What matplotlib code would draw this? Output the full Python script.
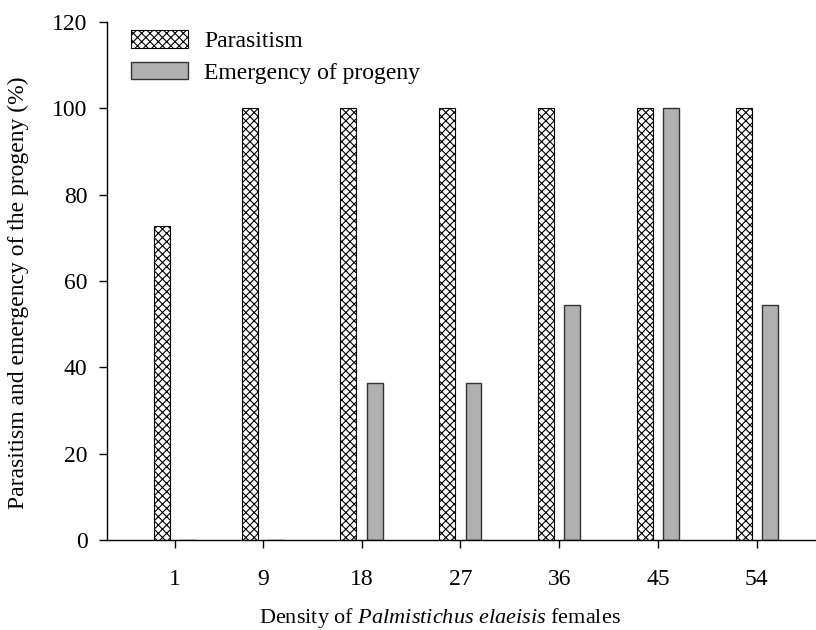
import matplotlib
matplotlib.use("Agg")
import matplotlib.pyplot as plt
import numpy as np

density = [1, 9, 18, 27, 36, 45, 54]
parasitism = [72.7, 100, 100, 100, 100, 100, 100]
emergence = [0, 0, 36.4, 36.4, 54.5, 100, 54.5]

plt.rcParams['font.family'] = ['Liberation Serif', 'DejaVu Serif']
plt.rcParams['mathtext.fontset'] = 'custom'
plt.rcParams['mathtext.rm'] = 'Liberation Serif'
plt.rcParams['mathtext.it'] = 'Liberation Serif:italic'
plt.rcParams['hatch.linewidth'] = 0.8

fig = plt.figure(figsize=(8.16, 6.3), dpi=100)
ax = fig.add_axes([0.131, 0.143, 0.869, 0.822])

x = np.array(density, dtype=float)
w = 1.45
off = 1.2
ax.bar(x - off, parasitism, width=w, facecolor='white', edgecolor='black',
       hatch='xxxx', linewidth=0.8, label='Parasitism')
ax.bar(x + off, emergence, width=w, facecolor='#b0b0b0', edgecolor='#333333',
       linewidth=1.0, label='Emergency of progeny')

ax.set_xlim(-5.2, 59.4)
ax.set_ylim(0, 120)
ax.set_xticks(density)
ax.set_xticklabels([str(d) for d in density])
ax.set_yticks(np.arange(0, 121, 20))
for s in ['top', 'right']:
    ax.spines[s].set_visible(False)
ax.spines['left'].set_linewidth(1.0)
ax.spines['bottom'].set_linewidth(1.0)
ax.tick_params(direction='out', length=6, width=1.0, labelsize=17, pad=8)
ax.tick_params(axis='x', pad=15)

ax.set_ylabel('Parasitism and emergency of the progeny (%)', fontsize=17)
ax.yaxis.set_label_coords(-0.110, 0.478)
ax.set_xlabel('Density of $\\mathit{Palmistichus\\ elaeisis}$ females', fontsize=16)
ax.xaxis.set_label_coords(0.47, -0.128)

leg = ax.legend(loc='upper left', bbox_to_anchor=(0.004, 1.025), frameon=False,
                fontsize=17, handlelength=2.4, handleheight=0.75,
                handletextpad=0.7, labelspacing=0.4)

fig.savefig('out.png', dpi=100)
